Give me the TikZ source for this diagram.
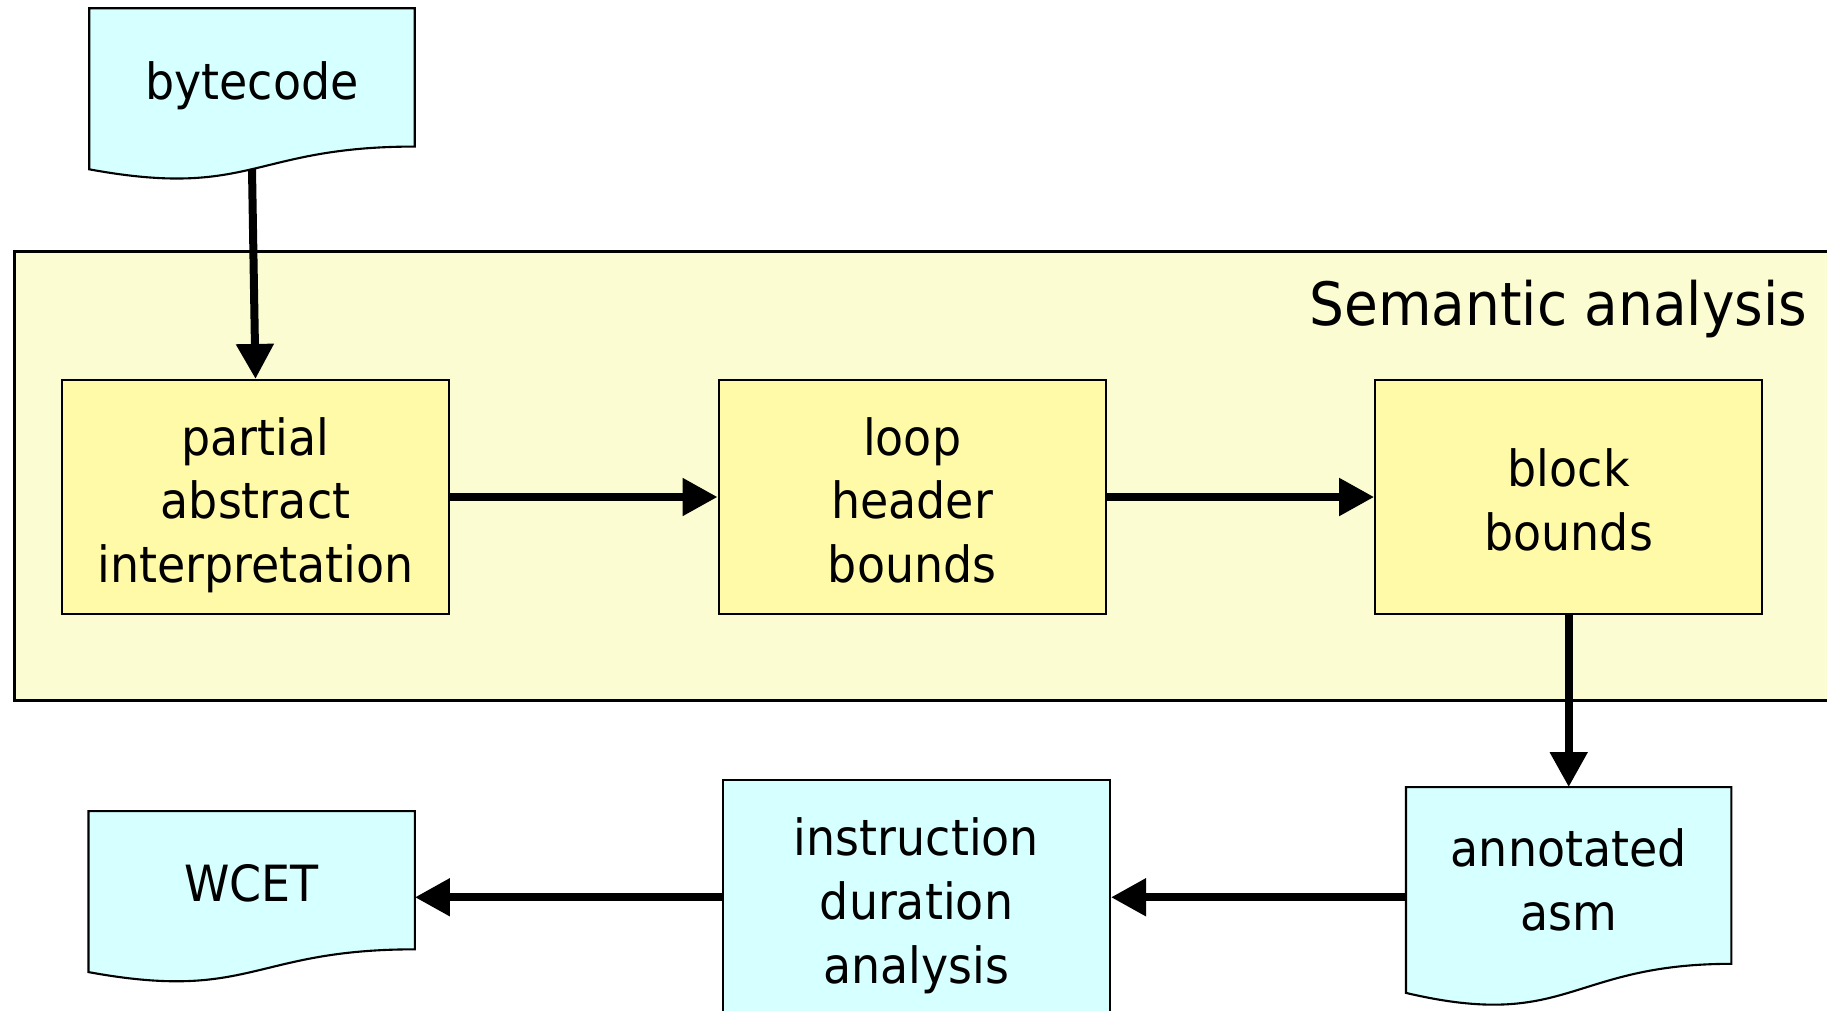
\documentclass[tikz,border=0pt]{standalone}
\usepackage{fontspec}
\setmainfont{DejaVu Sans}[FakeStretch=0.92]
\usepackage{tikz}
\usetikzlibrary{arrows.meta,positioning,calc}
\usepackage{xcolor}
\definecolor{docblue}{RGB}{214,255,255}
\definecolor{stepyellow}{RGB}{255,250,168}
\definecolor{groupyellow}{RGB}{252,252,210}

% outline of a document node: flat top, wavy bottom
\newcommand\docoutline[1]{%
  \draw[docline] (#1.north west) -- (#1.north east)
    -- ($(#1.north east)!0.802!(#1.south east)$)
    .. controls ($(#1.north)!0.802!(#1.south)$) and ($(#1.north)!1.1075!(#1.south)$)
    .. ($(#1.north west)!0.934!(#1.south west)$) -- cycle;}
% line box struts, so that box texts sit like the slide's
\newcommand\topstrut{\rule{0pt}{16.4pt}}
\newcommand\botstrut{\rule[-3.9pt]{0pt}{3.9pt}}

\begin{document}
\begin{tikzpicture}[
      every node/.style={font=\fontsize{14.2pt}{18.2pt}\selectfont},
      group/.style={draw, line width=0.8pt, fill=groupyellow, inner sep=0pt,
                    minimum width=18.6cm, minimum height=4.49cm},
      grouptitle/.style={font=\fontsize{17pt}{20pt}\selectfont, inner sep=0pt},
      stepbox/.style={draw, line width=0.6pt, fill=stepyellow, align=center,
                      minimum width=3.87cm, minimum height=2.34cm, inner sep=0pt},
      ana/.style={stepbox, fill=docblue},
      doc/.style={minimum width=3.24cm, minimum height=1.71cm, inner sep=0pt},
      docline/.style={draw, line width=0.6pt, fill=docblue},
      doctext/.style={align=center, inner sep=0pt},
      arr/.style={-{Triangle[length=3.5mm, width=3.6mm]}, line width=0.8mm},
    ]
    \useasboundingbox (0,0) rectangle (18.27,-10.10);

    % ── Semantic analysis group ────────────────────────────
    \node[group, anchor=north west] (sem) at (0.13,-2.50) {};
    \node[grouptitle, anchor=east] (semtitle) at (18.08,-3.09)
      {Semantic analysis};

    % ── Row 1: input document ──────────────────────────────
    \node[doc] (code) at (2.52,-0.945) {};
    \docoutline{code}
    \node[doctext] (codetxt) at ([yshift=0.9mm]code.center) {bytecode};

    % ── Row 2: analysis steps ──────────────────────────────
    \node[stepbox] (partial) at (2.555,-4.97)
      {\topstrut partial\\abstract\\interpretation\botstrut};
    \node[stepbox, right=2.675cm of partial] (loop)
      {\topstrut loop\\header\\bounds\botstrut};
    \node[stepbox, right=2.675cm of loop] (block)
      {\topstrut block\\bounds\botstrut};

    % ── Row 3: timing ──────────────────────────────────────
    \node[doc, minimum height=2.19cm, below=1.72cm of block] (asm) {};
    \docoutline{asm}
    \node[doctext] (asmtxt) at ([yshift=1.7mm]asm.center) {annotated\\asm};

    \node[ana, left=2.95cm of asm] (instr)
      {\topstrut instruction\\duration\\analysis\botstrut};

    \node[doc, minimum width=3.25cm, left=3.07cm of instr] (wcet) {};
    \docoutline{wcet}
    \node[doctext] (wcettxt) at ([yshift=1.35mm]wcet.center) {WCET};

    % ── Arrows ─────────────────────────────────────────────
    \draw[arr] ([yshift=1.15mm]code.south) -- (partial.north);
    \draw[arr] (partial.east) -- (loop.west);
    \draw[arr] (loop.east)    -- (block.west);
    \draw[arr] (block.south)  -- (asm.north);
    \draw[arr] (asm.west)     -- (instr.east);
    \draw[arr] (instr.west)   -- (wcet.east);
  \end{tikzpicture}
\end{document}
